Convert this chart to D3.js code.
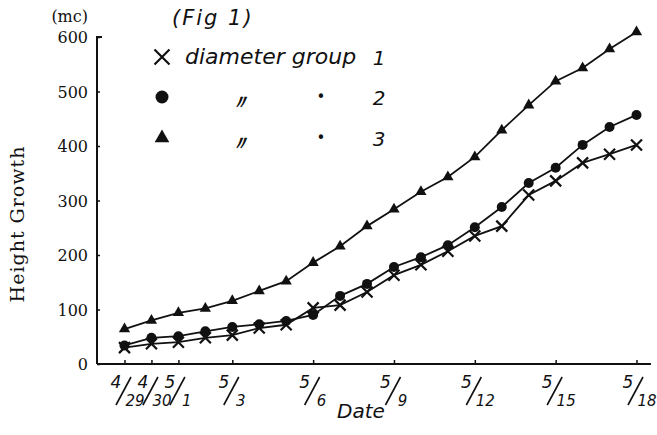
<!DOCTYPE html>
<html>
<head>
<meta charset="utf-8">
<script src="https://cdn.jsdelivr.net/npm/d3@7"></script>
<style>
  html, body { margin: 0; padding: 0; background: #fff; }
  svg { display: block; }
  .hand { font-family: "DejaVu Sans", sans-serif; font-style: italic; fill: #111; }
  .serif { font-family: "DejaVu Serif", serif; fill: #111; }
</style>
</head>
<body>
<svg id="chart" width="657" height="435"></svg>
<script>
// ---- data ----
const dates = ["4/29","4/30","5/1","5/2","5/3","5/4","5/5","5/6","5/7","5/8",
               "5/9","5/10","5/11","5/12","5/13","5/14","5/15","5/16","5/17","5/18"];
const group1 = [30, 37, 40, 48, 53, 66, 72, 103, 108, 132, 163, 182, 207, 235, 253, 310, 336, 369, 385, 402];
const group2 = [34, 48, 51, 60, 68, 73, 79, 90, 125, 147, 178, 196, 218, 251, 288, 332, 360, 402, 435, 457];
const group3 = [64, 80, 94, 102, 116, 134, 152, 186, 216, 253, 284, 316, 343, 380, 429, 475, 519, 543, 578, 609];
const xTickLabels = ["4/29","4/30","5/1","5/3","5/6","5/9","5/12","5/15","5/18"];
const yTicks = [0, 100, 200, 300, 400, 500, 600];

const parse = s => d3.timeParse("%Y/%m/%d")("1950/" + s);

const svg = d3.select("#chart");
const x = d3.scaleTime().domain([parse("4/29"), parse("5/18")]).range([124.5, 636.5]);
const y = d3.scaleLinear().domain([0, 600]).range([364, 37]);
const axisX0 = 97, axisX1 = 651;

// ---- axes ----
const gy = svg.append("g").attr("transform", `translate(${axisX0},0)`)
  .call(d3.axisRight(y).tickValues(yTicks).tickSize(3).tickFormat(""));
gy.select(".domain").remove();
gy.selectAll(".tick line").attr("stroke", "#111").attr("stroke-width", 1.5);
svg.append("path")
  .attr("d", `M${axisX0 + 5},${y(600)}H${axisX0}V${y(0)}`)
  .attr("fill", "none").attr("stroke", "#111").attr("stroke-width", 2);

svg.selectAll(".ylab").data(yTicks).join("text")
  .attr("class", "serif ylab")
  .attr("x", 88).attr("y", d => y(d) + 6)
  .attr("text-anchor", "end").attr("font-size", 16)
  .text(d => d);

const gx = svg.append("g").attr("transform", `translate(0,${y(0)})`)
  .call(d3.axisBottom(x).tickValues(xTickLabels.map(parse)).tickSize(-4).tickFormat(""));
gx.select(".domain").remove();
gx.selectAll(".tick line").attr("stroke", "#111").attr("stroke-width", 1.5);
svg.append("line").attr("x1", axisX0).attr("x2", axisX1)
  .attr("y1", y(0)).attr("y2", y(0)).attr("stroke", "#111").attr("stroke-width", 2);

// hand-written fraction style date labels: numerator / denominator
gx.selectAll(".tick").each(function(d, i) {
  const parts = xTickLabels[i].split("/");
  const g = d3.select(this);
  g.append("text").attr("class", "hand").attr("x", -9).attr("y", 24)
    .attr("text-anchor", "middle").attr("font-size", 17).text(parts[0]);
  g.append("path").attr("d", "M-9,41L6,13")
    .attr("stroke", "#111").attr("stroke-width", 1.6).attr("fill", "none");
  g.append("text").attr("class", "hand").attr("x", 6 + parts[1].length * 2).attr("y", 42)
    .attr("text-anchor", "middle").attr("font-size", 15).text(parts[1]);
});

// ---- axis titles ----
svg.append("text").attr("class", "serif").attr("x", 88).attr("y", 22)
  .attr("text-anchor", "end").attr("font-size", 16).text("(mc)");
svg.append("text").attr("class", "serif")
  .attr("transform", "translate(24,224) rotate(-90)")
  .attr("text-anchor", "middle").attr("font-size", 19).attr("letter-spacing", 1)
  .text("Height Growth");
svg.append("text").attr("class", "hand").attr("x", 361).attr("y", 418)
  .attr("text-anchor", "middle").attr("font-size", 20).text("Date");
svg.append("text").attr("class", "hand").attr("x", 172).attr("y", 25)
  .attr("font-size", 21).attr("letter-spacing", 2).text("(Fig 1)");

// ---- series ----
const series = [
  { name: "1", values: group1, shape: "x" },
  { name: "2", values: group2, shape: "circle" },
  { name: "3", values: group3, shape: "triangle" }
];
const line = d3.line().x(d => x(d.date)).y(d => y(d.v));

function drawMarker(g, shape, size) {
  if (shape === "circle") {
    g.append("circle").attr("r", size * 0.5).attr("fill", "#111");
  } else if (shape === "triangle") {
    g.append("path").attr("d", d3.symbol(d3.symbolTriangle, size * size * 0.55)())
      .attr("fill", "#111");
  } else {
    const h = size * 0.5;
    g.append("path").attr("d", `M${-h},${-h}L${h},${h}M${h},${-h}L${-h},${h}`)
      .attr("stroke", "#111").attr("stroke-width", 2.2).attr("fill", "none");
  }
}

series.forEach(s => {
  const pts = dates.map((d, i) => ({ date: parse(d), v: s.values[i] }));
  svg.append("path").datum(pts).attr("d", line)
    .attr("fill", "none").attr("stroke", "#111").attr("stroke-width", 1.8);
  svg.append("g").selectAll("g").data(pts).join("g")
    .attr("transform", d => `translate(${x(d.date)},${y(d.v)})`)
    .each(function() { drawMarker(d3.select(this), s.shape, s.shape === "x" ? 11 : 10); });
});

// ---- legend ----
const legendRows = [
  { shape: "x", y: 57, label: "1" },
  { shape: "circle", y: 97, label: "2" },
  { shape: "triangle", y: 138, label: "3" }
];
legendRows.forEach((r, i) => {
  const g = svg.append("g").attr("transform", `translate(162,${r.y})`);
  drawMarker(g, r.shape, r.shape === "x" ? 15 : 13);
  if (i === 0) {
    svg.append("text").attr("class", "hand").attr("x", 185).attr("y", r.y + 7)
      .attr("font-size", 22).text("diameter group");
  } else {
    svg.append("text").attr("class", "hand").attr("x", 240).attr("y", r.y + 12)
      .attr("text-anchor", "middle").attr("font-size", 20).attr("font-weight", "bold")
      .text("\u3003");
    svg.append("text").attr("class", "hand").attr("x", 321).attr("y", r.y + 5)
      .attr("text-anchor", "middle").attr("font-size", 15).text("\u2022");
  }
  svg.append("text").attr("class", "hand").attr("x", 379).attr("y", r.y + 8)
    .attr("text-anchor", "middle").attr("font-size", 20).text(r.label);
});
</script>
</body>
</html>
